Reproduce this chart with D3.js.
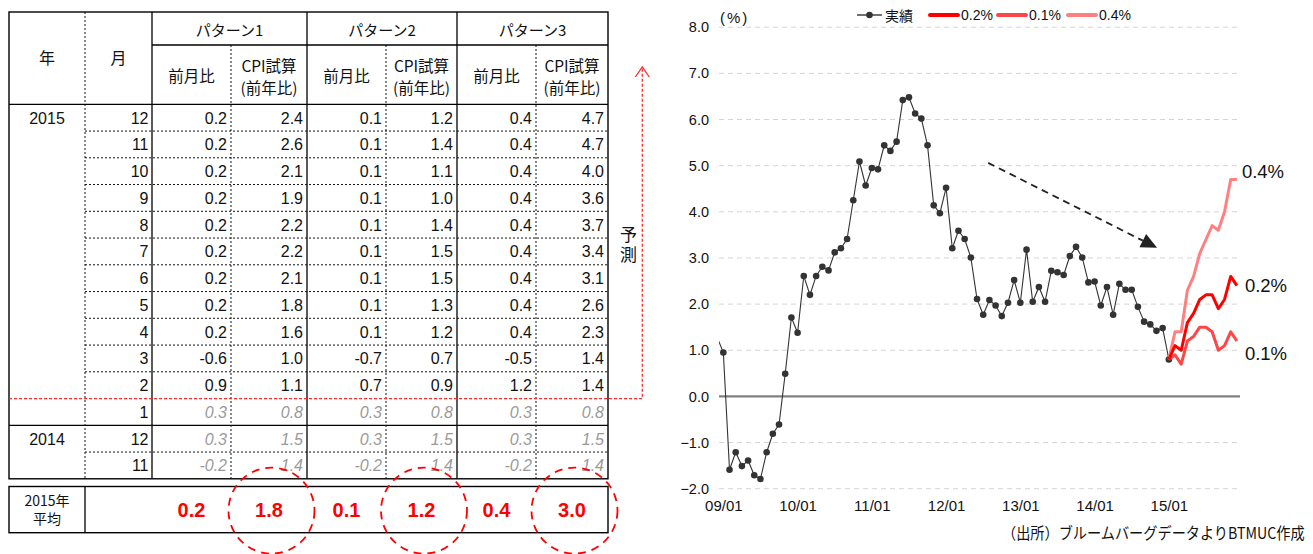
<!DOCTYPE html>
<html lang="ja">
<head>
<meta charset="utf-8">
<title>CPI試算</title>
<script src="https://cdn.jsdelivr.net/npm/d3@7"></script>
<style>
  html, body { margin: 0; padding: 0; background: #fff; }
  svg { display: block; }
</style>
</head>
<body>
<svg id="fig" width="1313" height="554"></svg>
<script>
// ---------- table data (rows newest first) ----------
const rowMonths     = [12, 11, 10, 9, 8, 7, 6, 5, 4, 3, 2, 1, 12, 11];
const yearLabels    = ["2015", "2014"];
const yearRowCounts = [12, 2];
const patternNames  = ["パターン1", "パターン2", "パターン3"];
const momP1 = [0.2, 0.2, 0.2, 0.2, 0.2, 0.2, 0.2, 0.2, 0.2, -0.6, 0.9, 0.3, 0.3, -0.2];
const cpiP1 = [2.4, 2.6, 2.1, 1.9, 2.2, 2.2, 2.1, 1.8, 1.6, 1.0, 1.1, 0.8, 1.5, 1.4];
const momP2 = [0.1, 0.1, 0.1, 0.1, 0.1, 0.1, 0.1, 0.1, 0.1, -0.7, 0.7, 0.3, 0.3, -0.2];
const cpiP2 = [1.2, 1.4, 1.1, 1.0, 1.4, 1.5, 1.5, 1.3, 1.2, 0.7, 0.9, 0.8, 1.5, 1.4];
const momP3 = [0.4, 0.4, 0.4, 0.4, 0.4, 0.4, 0.4, 0.4, 0.4, -0.5, 1.2, 0.3, 0.3, -0.2];
const cpiP3 = [4.7, 4.7, 4.0, 3.6, 3.7, 3.4, 3.1, 2.6, 2.3, 1.4, 1.4, 0.8, 1.5, 1.4];
const avgMom2015 = [0.2, 0.1, 0.4];
const avgCpi2015 = [1.8, 1.2, 3.0];
// rows from here on are actual results, earlier ones are projections
const firstActualRow = 11;

// ---------- chart data ----------
// monthly CPI (YoY %), 2008/12 .. 2014/12 ; month index 0 = 2009/01
const actualFirstIndex = -1;
const actualValues = [
  1.28,
  0.95, -1.59, -1.21, -1.51, -1.39, -1.71, -1.79, -1.21, -0.81, -0.61, 0.49, 1.71,
  1.38, 2.61, 2.20, 2.61, 2.81, 2.73, 3.12, 3.21, 3.41, 4.25, 5.09, 4.57,
  4.95, 4.92, 5.44, 5.32, 5.52, 6.42, 6.48, 6.13, 6.02, 5.44, 4.14, 3.97,
  4.52, 3.21, 3.59, 3.41, 3.01, 2.11, 1.77, 2.09, 1.97, 1.74, 2.03, 2.52,
  2.03, 3.18, 2.05, 2.37, 2.05, 2.72, 2.69, 2.63, 3.04, 3.24, 3.01, 2.47,
  2.49, 1.97, 2.37, 1.77, 2.44, 2.31, 2.31, 1.94, 1.62, 1.56, 1.42, 1.48
];
const xTickLabels  = ["09/01", "10/01", "11/01", "12/01", "13/01", "14/01", "15/01"];
const yTickValues  = [-2, -1, 0, 1, 2, 3, 4, 5, 6, 7, 8];
const scenarioNames  = ["0.2%", "0.1%", "0.4%"];
const scenarioColors = ["#ff0000", "#ff4646", "#ff8080"];
const scenarioTables = [cpiP1, cpiP2, cpiP3];
const forecastStartIndex = 72;            // 2015/01
const trendArrowFrom = [42.8, 5.06];      // [month index, %]
const trendArrowTo   = [70.1, 3.22];

const JP = '"Noto Sans CJK JP", sans-serif';
const SANS = '"Liberation Sans", Arial, sans-serif';
const NARROW = '"Liberation Sans Narrow", "Arial Narrow", "Liberation Sans", sans-serif';

const svg = d3.select("#fig");
const fmt1 = v => v.toFixed(1);

// =====================================================================
// Table
// =====================================================================
const colEdges = [9, 85, 152, 231, 307, 386, 457, 536, 608];
const tTop = 12, tHdr1 = 45, tHdr2 = 104.3, rowH = 26.75;
const nRows = rowMonths.length;
const rowY = d3.scaleLinear().domain([0, nRows]).range([tHdr2, tHdr2 + nRows * rowH]);
const tBottom = rowY(nRows);

const table = svg.append("g").attr("class", "table");
const solid = (x1, y1, x2, y2, w = 1.3) =>
  table.append("line").attr("x1", x1).attr("y1", y1).attr("x2", x2).attr("y2", y2)
    .attr("stroke", "#000").attr("stroke-width", w);
const dotted = (x1, y1, x2, y2) =>
  table.append("line").attr("x1", x1).attr("y1", y1).attr("x2", x2).attr("y2", y2)
    .attr("stroke", "#111").attr("stroke-width", 1).attr("stroke-dasharray", "2,2");

// row separators
rowMonths.forEach((m, i) => {
  if (i === 0) return;
  const yy = rowY(i);
  if (i === yearRowCounts[0]) solid(colEdges[0], yy, colEdges[8], yy);
  else if (i !== firstActualRow) dotted(colEdges[1], yy, colEdges[8], yy);
});
// vertical rules
dotted(colEdges[1], tTop, colEdges[1], tBottom);
[3, 5, 7].forEach(c => dotted(colEdges[c], tHdr1, colEdges[c], tBottom));
[2, 4, 6].forEach(c => solid(colEdges[c], tTop, colEdges[c], tBottom));
solid(colEdges[2], tHdr1, colEdges[8], tHdr1);
solid(colEdges[0], tHdr2, colEdges[8], tHdr2);
table.append("rect").attr("x", colEdges[0]).attr("y", tTop)
  .attr("width", colEdges[8] - colEdges[0]).attr("height", tBottom - tTop)
  .attr("fill", "none").attr("stroke", "#000").attr("stroke-width", 1.4);

// header text
const hText = (x, y, s, size = 15.5, fam = JP) =>
  table.append("text").attr("x", x).attr("y", y).attr("text-anchor", "middle")
    .attr("dominant-baseline", "central").attr("font-family", fam)
    .attr("font-size", size).attr("fill", "#111").text(s);
hText((colEdges[0] + colEdges[1]) / 2, 57, "年", 16);
hText((colEdges[1] + colEdges[2]) / 2, 57, "月", 16);
patternNames.forEach((p, k) => {
  const c = 2 + k * 2;
  hText((colEdges[c] + colEdges[c + 2]) / 2, 29, p, 15);
  hText((colEdges[c] + colEdges[c + 1]) / 2, 75, "前月比");
  hText((colEdges[c + 1] + colEdges[c + 2]) / 2, 65, "CPI試算");
  hText((colEdges[c + 1] + colEdges[c + 2]) / 2, 87, "(前年比)");
});

// year labels
let acc = 0;
yearLabels.forEach((yl, k) => {
  table.append("text").attr("x", (colEdges[0] + colEdges[1]) / 2).attr("y", rowY(acc) + rowH / 2 + 6)
    .attr("text-anchor", "middle").attr("font-family", SANS).attr("font-size", 16)
    .attr("fill", "#111").text(yl);
  acc += yearRowCounts[k];
});

// body cells
const valueCols = [momP1, cpiP1, momP2, cpiP2, momP3, cpiP3];
rowMonths.forEach((m, i) => {
  const base = rowY(i) + rowH / 2 + 6;
  table.append("text").attr("x", colEdges[2] - 3.5).attr("y", base)
    .attr("text-anchor", "end").attr("font-family", SANS).attr("font-size", 16)
    .attr("fill", "#111").text(m);
  const proj = i < firstActualRow;
  valueCols.forEach((arr, c) => {
    table.append("text").attr("x", colEdges[c + 3] - 4).attr("y", base)
      .attr("text-anchor", "end").attr("font-family", SANS).attr("font-size", 16)
      .attr("font-style", proj ? "normal" : "italic")
      .attr("fill", proj ? "#111" : "#9a9a9a").text(fmt1(arr[i]));
  });
});

// 2015 average box
const fTop = 486.5, fBottom = 532.7;
table.append("rect").attr("x", colEdges[0]).attr("y", fTop)
  .attr("width", colEdges[8] - colEdges[0]).attr("height", fBottom - fTop)
  .attr("fill", "none").attr("stroke", "#000").attr("stroke-width", 1.4);
solid(colEdges[1], fTop, colEdges[1], fBottom);
hText((colEdges[0] + colEdges[1]) / 2, 500, "2015年", 14);
hText((colEdges[0] + colEdges[1]) / 2, 518, "平均", 14);
const fMid = (fTop + fBottom) / 2;
avgMom2015.forEach((v, k) => {
  const c = 2 + k * 2;
  [[v, c], [avgCpi2015[k], c + 1]].forEach(([val, cc]) => {
    table.append("text").attr("x", (colEdges[cc] + colEdges[cc + 1]) / 2).attr("y", fMid + 7.5)
      .attr("text-anchor", "middle").attr("font-family", SANS).attr("font-size", 20)
      .attr("font-weight", "bold").attr("fill", "#ff0000").text(fmt1(val));
  });
  // highlight ring around the CPI average
  table.append("circle").attr("cx", (colEdges[c + 1] + colEdges[c + 2]) / 2 + 2.5).attr("cy", fMid + 1)
    .attr("r", 43).attr("fill", "none").attr("stroke", "#ff0000")
    .attr("stroke-width", 1.8).attr("stroke-dasharray", "8,6");
});

// forecast boundary marker: red dotted line with upward arrow
const bY = rowY(firstActualRow), bX = 642.3;
const red = table.append("g").attr("stroke", "#ff2a2a").attr("fill", "none").attr("stroke-width", 1.3);
red.append("path").attr("d", `M${colEdges[0]},${bY}H${bX}V67`).attr("stroke-dasharray", "3,2");
red.append("path").attr("d", `M${bX - 7},${77}L${bX},${67}L${bX + 7},${77}`);
table.append("text").attr("x", 628.5).attr("y", 246.5).attr("text-anchor", "middle")
  .attr("font-family", JP).attr("font-size", 17).attr("fill", "#111")
  .style("writing-mode", "vertical-rl").attr("letter-spacing", 3).text("予測");

// =====================================================================
// Line chart
// =====================================================================
const plotL = 719, plotR = 1240;
const x = d3.scaleLinear().domain([-0.7, 83.5]).range([plotL, plotR]);
const y = d3.scaleLinear().domain([-2, 8]).range([488.7, 27.2]);
const chart = svg.append("g").attr("class", "chart");

chart.append("clipPath").attr("id", "plotClip")
  .append("rect").attr("x", plotL).attr("y", 0).attr("width", plotR - plotL).attr("height", 554);

// grid
chart.append("g").selectAll("line").data(yTickValues.filter(v => v !== 0)).join("line")
  .attr("x1", plotL).attr("x2", plotR).attr("y1", d => y(d)).attr("y2", d => y(d))
  .attr("stroke", "#d4d4d4").attr("stroke-width", 1).attr("stroke-dasharray", "5,4");
chart.append("line").attr("x1", plotL).attr("x2", plotR).attr("y1", y(0)).attr("y2", y(0))
  .attr("stroke", "#808080").attr("stroke-width", 2.2);

// y axis labels
const yAxis = chart.append("g").attr("transform", `translate(${plotL - 10},0)`)
  .call(d3.axisLeft(y).tickValues(yTickValues).tickFormat(d3.format(".1f")).tickSize(0).tickPadding(0));
yAxis.select(".domain").remove();
yAxis.selectAll("text").attr("font-family", NARROW).attr("font-size", 14.5).attr("fill", "#111");

// x axis labels
const xTickIdx = xTickLabels.map((_, i) => i * 12);
const xAxis = chart.append("g").attr("transform", `translate(0,${y(-2) + 12})`)
  .call(d3.axisBottom(x).tickValues(xTickIdx).tickFormat((d, i) => xTickLabels[i]).tickSize(0).tickPadding(0));
xAxis.select(".domain").remove();
xAxis.selectAll("text").attr("font-family", NARROW).attr("font-size", 15).attr("fill", "#111");

chart.append("text").attr("x", 720).attr("y", 23).attr("font-family", SANS)
  .attr("font-size", 15).attr("letter-spacing", 2).attr("fill", "#111").text("(%)");

// actual series (Jan 2015 taken from the table)
const actual = actualValues.map((v, i) => ({ i: actualFirstIndex + i, v }));
actual.push({ i: forecastStartIndex, v: cpiP1[firstActualRow] });
const line = d3.line().x(d => x(d.i)).y(d => y(d.v));
chart.append("path").datum(actual).attr("d", line).attr("clip-path", "url(#plotClip)")
  .attr("fill", "none").attr("stroke", "#333").attr("stroke-width", 1.1);
chart.append("g").selectAll("circle").data(actual.filter(d => d.i >= 0)).join("circle")
  .attr("cx", d => x(d.i)).attr("cy", d => y(d.v)).attr("r", 3.3).attr("fill", "#333");

// scenario paths (Jan..Dec 2015), drawn lightest first
const scen = scenarioTables.map(arr =>
  arr.slice(0, firstActualRow + 1).reverse().map((v, k) => ({ i: forecastStartIndex + k, v })));
[2, 1, 0].forEach(k => {
  chart.append("path").datum(scen[k]).attr("d", line).attr("fill", "none")
    .attr("stroke", scenarioColors[k]).attr("stroke-width", 3).attr("stroke-linejoin", "round");
});
// end labels
const endOffset = [0, 12, -8];
const endDx = [8, 8, 5];
scen.forEach((s, k) => {
  const last = s[s.length - 1];
  chart.append("text").attr("x", x(last.i) + endDx[k]).attr("y", y(last.v) + endOffset[k])
    .attr("dominant-baseline", "central").attr("font-family", NARROW).attr("font-size", 18.5)
    .attr("fill", "#111").text(scenarioNames[k]);
});

// trend arrow
{
  const p0 = [x(trendArrowFrom[0]), y(trendArrowFrom[1])];
  const p1 = [x(trendArrowTo[0]), y(trendArrowTo[1])];
  const dx = p1[0] - p0[0], dy = p1[1] - p0[1], len = Math.hypot(dx, dy);
  const ux = dx / len, uy = dy / len, hl = 16, hw = 7.5;
  const b = [p1[0] - ux * hl, p1[1] - uy * hl];
  chart.append("line").attr("x1", p0[0]).attr("y1", p0[1]).attr("x2", b[0]).attr("y2", b[1])
    .attr("stroke", "#222").attr("stroke-width", 1.8).attr("stroke-dasharray", "7,5");
  chart.append("path")
    .attr("d", `M${p1[0]},${p1[1]}L${b[0] - uy * hw},${b[1] + ux * hw}L${b[0] + uy * hw},${b[1] - ux * hw}Z`)
    .attr("fill", "#222");
}

// legend
const lg = chart.append("g").attr("transform", "translate(0,15)");
lg.append("line").attr("x1", 857).attr("x2", 882).attr("stroke", "#333").attr("stroke-width", 1.4);
lg.append("circle").attr("cx", 869.5).attr("r", 3.3).attr("fill", "#333");
lg.append("text").attr("x", 885).attr("dominant-baseline", "central").attr("font-family", JP)
  .attr("font-size", 14).attr("fill", "#111").text("実績");
const lgX = [930, 998, 1068];
scenarioNames.forEach((nm, k) => {
  lg.append("line").attr("x1", lgX[k]).attr("x2", lgX[k] + 28).attr("stroke", scenarioColors[k])
    .attr("stroke-width", 4).attr("stroke-linecap", "round");
  lg.append("text").attr("x", lgX[k] + 31).attr("dominant-baseline", "central")
    .attr("font-family", NARROW).attr("font-size", 14).attr("fill", "#111").text(nm);
});

// source note (horizontally condensed)
chart.append("text").attr("transform", "translate(1002,532) scale(0.915,1)")
  .attr("dominant-baseline", "central")
  .attr("font-family", JP).attr("font-size", 15.5).attr("fill", "#111")
  .text("（出所）ブルームバーグデータよりBTMUC作成");
</script>
</body>
</html>
